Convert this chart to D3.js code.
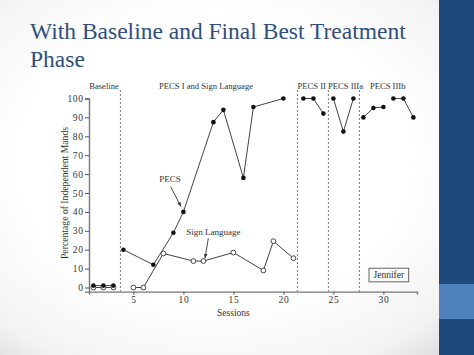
<!DOCTYPE html>
<html><head><meta charset="utf-8">
<script src="https://cdn.jsdelivr.net/npm/d3@7"></script>
<style>html,body{margin:0;padding:0;background:#fff;overflow:hidden}</style>
</head><body>
<svg id="c" width="474" height="355"></svg>
<script>
const titleLines = ["With Baseline and Final Best Treatment", "Phase"];
const pecsSessions = [1,2,3,4,7,9,10,13,14,16,17,20,22,23,24,25,26,27,28,29,30,31,32,33];
const pecsValues   = [1,1,1,20,12,29,40,87.5,94,58,95.5,100,100,100,92,100,82.5,100,90,95,95.5,100,100,90];
const pecsSegment  = [0,0,0,1,1,1,1,1,1,1,1,1,2,2,2,3,3,3,4,4,4,5,5,5];
const signSessions = [1,2,3,5,6,8,11,12,15,18,19,21];
const signValues   = [0,0,0,0,0,18,14,14,18.5,9,24.5,15.5];
const signSegment  = [0,0,0,1,1,1,1,1,1,1,1,1];
const phaseLines = [3.7, 21.4, 24.5, 27.6];
const phaseLabels = ["Baseline","PECS I and Sign Language","PECS II","PECS IIIa","PECS IIIb"];
const phaseLabelAt = [2.06, 12.26, 22.83, 26.21, 30.43];
const xTicks = [5,10,15,20,25,30];
const yTicks = [0,10,20,30,40,50,60,70,80,90,100];
const xTitle = "Sessions";
const yTitle = "Percentage of Independent Mands";
const pecsNote = {text:"PECS", at:[8.66,55.8], from:[8.73,53.3], to:[9.76,42.8]};
const signNote = {text:"Sign Language", at:[12.99,27.8], from:[12.49,26], to:[12.16,15.4]};
const boxName = "Jennifer";

const svg = d3.select("#c");
const defs = svg.append("defs");
const rg = defs.append("radialGradient").attr("id","bg").attr("cx","45%").attr("cy","45%").attr("r","75%");
rg.append("stop").attr("offset","0.55").attr("stop-color","#ffffff");
rg.append("stop").attr("offset","0.85").attr("stop-color","#f3f3f3");
rg.append("stop").attr("offset","1").attr("stop-color","#dadada");
svg.append("rect").attr("width",474).attr("height",355).attr("fill","url(#bg)");
// side bar
svg.append("rect").attr("x",439).attr("y",0).attr("width",35).attr("height",355).attr("fill","#1f497d");
svg.append("rect").attr("x",439).attr("y",284).attr("width",35).attr("height",35).attr("fill","#4f81bd");

// title
svg.append("g").selectAll("text").data(titleLines).join("text")
  .attr("x",30).attr("y",(d,i)=>38.5+i*28.3)
  .attr("font-family","Liberation Serif, serif").attr("font-size",23.5)
  .attr("fill","#2f4f7f").text(d=>d);

const x = d3.scaleLinear().domain([0,33]).range([83.4,413.4]);
const y = d3.scaleLinear().domain([0,100]).range([287.5,98.5]);
const xa = d3.scaleLinear().domain([0.56,33.36]).range([x(0.56),x(33.36)]);
const ya = d3.scaleLinear().domain([-2.2,100]).range([y(-2.2),y(100)]);

const font = "Liberation Serif, Times New Roman, serif";
const gx = svg.append("g").attr("transform",`translate(0,${y(-2.2)})`)
  .call(d3.axisBottom(xa).tickValues(xTicks).tickSizeOuter(0).tickSize(3).tickPadding(2));
const gy = svg.append("g").attr("transform",`translate(${x(0.56)},0)`)
  .call(d3.axisLeft(ya).tickValues(yTicks).tickSizeOuter(0).tickSize(4).tickPadding(1.5));
[gx,gy].forEach(g=>{
  g.select(".domain").attr("stroke","#777").attr("stroke-width",1.4);
  g.selectAll(".tick line").attr("stroke","#555");
  g.selectAll(".tick text").attr("font-family",font).attr("font-size",9.5).attr("fill","#333").attr("letter-spacing",0.6);
});

svg.append("text").attr("x",x(15)).attr("y",y(-14.9)).attr("text-anchor","middle")
  .attr("font-family",font).attr("font-size",9.5).attr("fill","#333").text(xTitle);
svg.append("text").attr("transform",`translate(${x(-1.5)},${y(50)}) rotate(-90)`)
  .attr("text-anchor","middle").attr("font-family",font).attr("font-size",9.7).attr("fill","#333").text(yTitle);

// phase lines
svg.append("g").selectAll("line").data(phaseLines).join("line")
  .attr("x1",d=>x(d)).attr("x2",d=>x(d)).attr("y1",y(104.5)).attr("y2",y(-2.2))
  .attr("stroke","#777").attr("stroke-width",1).attr("stroke-dasharray","2,2");
svg.append("g").selectAll("text").data(phaseLabels).join("text")
  .attr("x",(d,i)=>x(phaseLabelAt[i])).attr("y",y(104.8)).attr("text-anchor","middle")
  .attr("font-family",font).attr("font-size",8.6).attr("fill","#333").text(d=>d);

// lines
const line = d3.line().x(d=>x(d[0])).y(d=>y(d[1]));
function segs(ss,vs,sg){
  const m = d3.group(ss.map((s,i)=>[s,vs[i],sg[i]]), d=>d[2]);
  return Array.from(m.values());
}
const gl = svg.append("g").attr("fill","none").attr("stroke","#444").attr("stroke-width",1);
gl.selectAll("path.s").data(segs(signSessions,signValues,signSegment)).join("path").attr("class","s").attr("d",line);
gl.selectAll("path.p").data(segs(pecsSessions,pecsValues,pecsSegment)).join("path").attr("class","p").attr("d",line);

svg.append("g").selectAll("circle").data(signSessions).join("circle")
  .attr("cx",d=>x(d)).attr("cy",(d,i)=>y(signValues[i])).attr("r",2.4)
  .attr("fill","#fff").attr("stroke","#333").attr("stroke-width",0.9);
svg.append("g").selectAll("circle").data(pecsSessions).join("circle")
  .attr("cx",d=>x(d)).attr("cy",(d,i)=>y(pecsValues[i])).attr("r",2.3)
  .attr("fill","#111");

// annotations
defs.append("marker").attr("id","ah").attr("viewBox","0 0 10 10").attr("refX",10).attr("refY",5)
  .attr("markerWidth",5).attr("markerHeight",5).attr("orient","auto")
  .append("path").attr("d","M0,1 L10,5 L0,9 Z").attr("fill","#333");
[pecsNote,signNote].forEach(n=>{
  svg.append("text").attr("x",x(n.at[0])).attr("y",y(n.at[1])).attr("text-anchor","middle")
    .attr("font-family",font).attr("font-size",9).attr("fill","#333").text(n.text);
  svg.append("line").attr("x1",x(n.from[0])).attr("y1",y(n.from[1])).attr("x2",x(n.to[0])).attr("y2",y(n.to[1]))
    .attr("stroke","#333").attr("stroke-width",0.9).attr("marker-end","url(#ah)");
});

// name box
svg.append("rect").attr("x",x(28.56)).attr("y",y(10.2)).attr("width",x(32.53)-x(28.56)).attr("height",y(3)-y(10.2))
  .attr("fill","none").attr("stroke","#555").attr("stroke-width",0.9);
svg.append("text").attr("x",x(30.54)).attr("y",y(4.8)).attr("text-anchor","middle")
  .attr("font-family",font).attr("font-size",9.5).attr("fill","#333").text(boxName);
</script>
</body></html>
